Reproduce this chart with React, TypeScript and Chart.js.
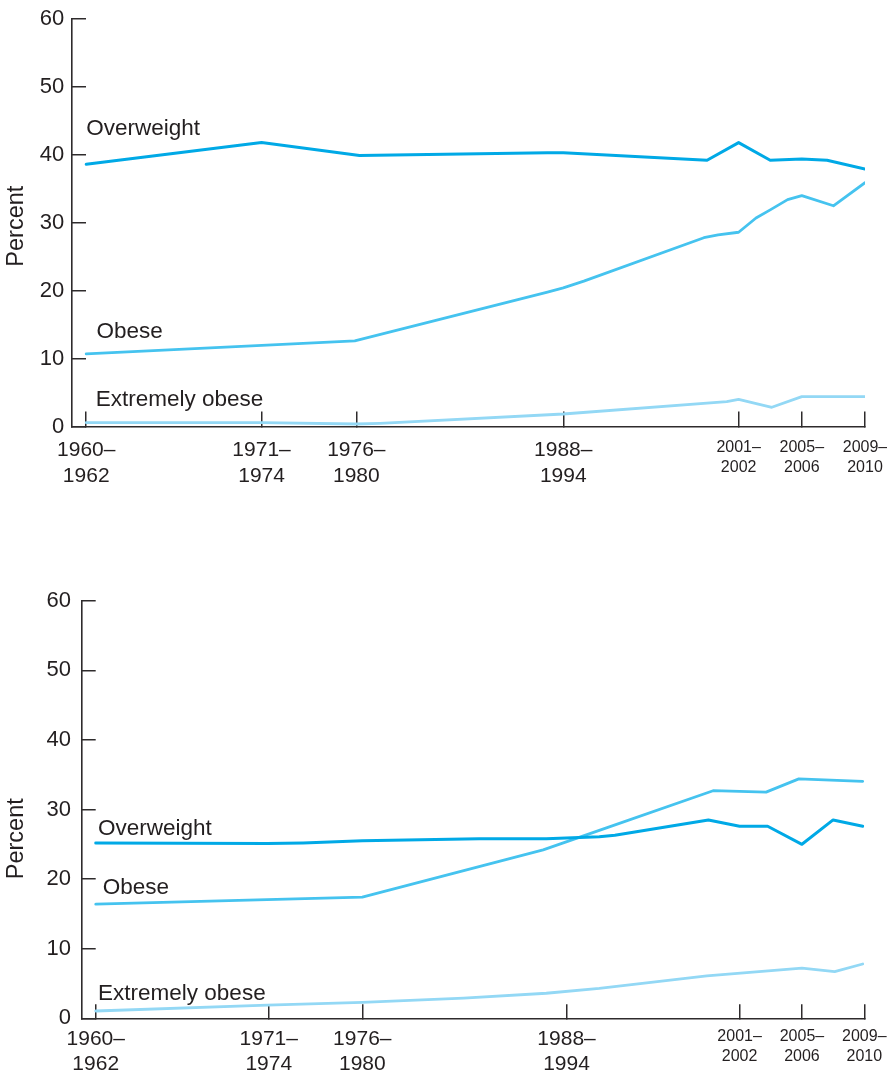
import React, { useEffect, useRef } from "react";
import { Chart, registerables } from "chart.js";

Chart.register(...registerables);

// ---- shared axis data ----
const tickPositions = [1960.2, 1971.3, 1977.3, 1990.4, 2001.5, 2005.5, 2009.5];
const tickLabels = [
  ["1960–", "1962"],
  ["1971–", "1974"],
  ["1976–", "1980"],
  ["1988–", "1994"],
  ["2001–", "2002"],
  ["2005–", "2006"],
  ["2009–", "2010"],
];
const yTicks = [0, 10, 20, 30, 40, 50, 60];
const seriesNames = ["Overweight", "Obese", "Extremely obese"];

// ---- top panel ----
const topOverweightX = [1960.2, 1971.3, 1977.5, 1989.4, 1990.4, 1999.5, 2001.5, 2003.5, 2005.5, 2007.1, 2009.5];
const topOverweight = [38.6, 41.8, 39.9, 40.3, 40.3, 39.2, 41.8, 39.2, 39.4, 39.2, 37.9];
const topObeseX = [1960.2, 1977.2, 1989.4, 1990.4, 1991.7, 1999.3, 2000.2, 2001.5, 2002.6, 2003.5, 2004.6, 2005.5, 2007.5, 2009.5];
const topObese = [10.7, 12.6, 19.8, 20.4, 21.4, 27.8, 28.2, 28.6, 30.7, 31.9, 33.4, 34.0, 32.5, 35.9];
const topExtremeX = [1960.2, 1971.3, 1977.3, 1978.8, 1990.4, 2000.75, 2001.5, 2003.6, 2005.5, 2009.5];
const topExtreme = [0.56, 0.56, 0.37, 0.47, 1.84, 3.66, 4.0, 2.83, 4.4, 4.4];

// ---- bottom panel ----
const botOverweightX = [1960.2, 1971.2, 1973.5, 1977.3, 1984.8, 1989.1, 1992.5, 1993.5, 1999.5, 2001.5, 2003.3, 2005.5, 2007.5, 2009.4];
const botOverweight = [25.2, 25.1, 25.2, 25.5, 25.8, 25.8, 26.1, 26.3, 28.5, 27.6, 27.6, 25.0, 28.5, 27.6];
const botObeseX = [1960.2, 1977.3, 1988.9, 1992.5, 1999.8, 2001.5, 2003.2, 2005.3, 2009.4];
const botObese = [16.4, 17.4, 24.2, 27.0, 32.7, 32.6, 32.5, 34.4, 34.05];
const botExtremeX = [1960.2, 1971.2, 1977.3, 1983.8, 1989.1, 1992.5, 1999.4, 2005.5, 2007.6, 2009.4];
const botExtreme = [1.05, 1.9, 2.3, 2.9, 3.6, 4.3, 6.1, 7.2, 6.7, 7.8];

const FONT = '"Liberation Sans", Arial, Helvetica, sans-serif';
const TEXT = "#231f20";
const AXIS = "#2e2b2c";
const COLORS = ["#00a9e6", "#45c3ef", "#93d8f5"];

const textPlugin = {
  id: "panelText",
  afterDatasetsDraw(chart: any, _args: any, opts: any) {
    const { ctx, scales } = chart;
    const x = scales.x;
    const y = scales.y;
    ctx.save();
    ctx.fillStyle = TEXT;
    ctx.font = `22.5px ${FONT}`;
    ctx.textAlign = "left";
    ctx.textBaseline = "alphabetic";
    opts.labels.forEach((l: any) => {
      ctx.fillText(l.text, x.getPixelForValue(l.x), y.getPixelForValue(l.y));
    });
    ctx.translate(opts.titleX, y.getPixelForValue(opts.titleY));
    ctx.rotate(-Math.PI / 2);
    ctx.textAlign = "center";
    ctx.textBaseline = "middle";
    ctx.font = `23.5px ${FONT}`;
    ctx.fillText("Percent", 0, 0);
    ctx.restore();
  },
};

function ds(label: string, xs: number[], ys: number[], color: string, width: number) {
  return {
    label,
    data: xs.map((x, i) => ({ x, y: ys[i] })),
    borderColor: color,
    backgroundColor: color,
    borderWidth: width,
    pointRadius: 0,
    tension: 0,
    borderCapStyle: "round",
    borderJoinStyle: "round",
    fill: false,
  };
}

function makeConfig(p: any) {
  return {
    type: "line",
    data: {
      datasets: [
        ds(seriesNames[0], p.ow[0], p.ow[1], COLORS[0], 3),
        ds(seriesNames[1], p.ob[0], p.ob[1], COLORS[1], 2.8),
        ds(seriesNames[2], p.ex[0], p.ex[1], COLORS[2], 2.8),
      ],
    },
    options: {
      animation: false,
      responsive: false,
      maintainAspectRatio: false,
      layout: { padding: { left: 0, right: p.padRight, top: p.padTop, bottom: 0 } },
      plugins: {
        legend: { display: false },
        tooltip: { enabled: false },
        panelText: { labels: p.labels, titleX: 16.6, titleY: p.titleY },
      },
      scales: {
        x: {
          type: "linear",
          min: 1959.3,
          max: 2009.5,
          afterBuildTicks: (s: any) => {
            s.ticks = tickPositions.map((v) => ({ value: v }));
          },
          afterFit: (s: any) => {
            s.height = p.xHeight;
            s.paddingLeft = 0;
            s.paddingRight = 0;
          },
          grid: {
            display: true,
            drawOnChartArea: false,
            drawTicks: true,
            tickLength: -p.xTickLen,
            color: AXIS,
            lineWidth: 1.5,
          },
          border: { display: true, color: AXIS, width: 1.6 },
          ticks: {
            autoSkip: false,
            maxRotation: 0,
            minRotation: 0,
            padding: p.xPad,
            color: TEXT,
            callback: (_v: any, i: number) => tickLabels[i],
            font: (c: any) =>
              c.index >= 4
                ? { family: FONT, size: 16, lineHeight: 1.25 }
                : { family: FONT, size: 21, lineHeight: 1.2 },
          },
        },
        y: {
          type: "linear",
          min: 0,
          max: 60,
          afterBuildTicks: (s: any) => {
            s.ticks = yTicks.map((v) => ({ value: v }));
          },
          afterFit: (s: any) => {
            s.width = p.yWidth;
            s.paddingTop = 0;
            s.paddingBottom = 0;
          },
          grid: {
            display: true,
            drawOnChartArea: false,
            drawTicks: true,
            tickLength: -14,
            color: AXIS,
            lineWidth: 1.5,
          },
          border: { display: true, color: AXIS, width: 1.6 },
          ticks: {
            padding: p.yPad,
            color: TEXT,
            font: { family: FONT, size: 22 },
          },
        },
      },
    },
    plugins: [textPlugin],
  };
}

const topPanel = {
  ow: [topOverweightX, topOverweight],
  ob: [topObeseX, topObese],
  ex: [topExtremeX, topExtreme],
  padRight: 22,
  padTop: 19,
  xHeight: 73.5,
  yWidth: 72,
  xTickLen: 15,
  xPad: 26.5,
  yPad: 21.8,
  titleY: 29.5,
  labels: [
    { text: seriesNames[0], x: 1960.2, y: 42.85 },
    { text: seriesNames[1], x: 1960.85, y: 13.0 },
    { text: seriesNames[2], x: 1960.8, y: 3.0 },
  ],
};

const bottomPanel = {
  ow: [botOverweightX, botOverweight],
  ob: [botObeseX, botObese],
  ex: [botExtremeX, botExtreme],
  padRight: 22.7,
  padTop: 60.7,
  xHeight: 58.7,
  yWidth: 81.7,
  xTickLen: 14,
  xPad: 21.9,
  yPad: 24.8,
  titleY: 25.8,
  labels: [
    { text: seriesNames[0], x: 1960.34, y: 26.3 },
    { text: seriesNames[1], x: 1960.65, y: 17.8 },
    { text: seriesNames[2], x: 1960.35, y: 2.63 },
  ],
};

function Panel({ cfg, top, height }: { cfg: any; top: number; height: number }) {
  const ref = useRef<HTMLCanvasElement | null>(null);
  useEffect(() => {
    if (!ref.current) return;
    const chart = new Chart(ref.current, makeConfig(cfg) as any);
    return () => chart.destroy();
  }, [cfg]);
  return (
    <canvas
      ref={ref}
      width={887}
      height={height}
      style={{ position: "absolute", left: 0, top, width: 887, height }}
    />
  );
}

export default function App() {
  return (
    <div style={{ position: "absolute", left: 0, top: 0, width: 887, height: 1077, background: "#fff", overflow: "hidden" }}>
      <Panel cfg={topPanel} top={0} height={500} />
      <Panel cfg={bottomPanel} top={540} height={537} />
    </div>
  );
}
